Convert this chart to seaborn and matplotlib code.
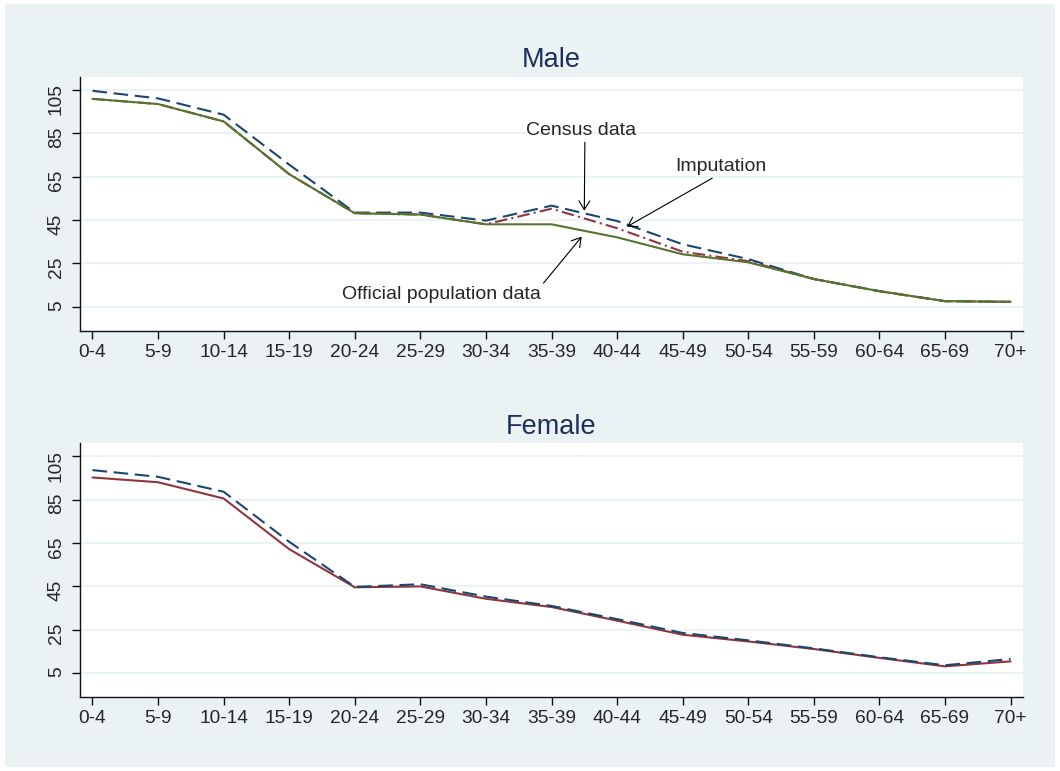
import matplotlib
matplotlib.use("Agg")
import matplotlib.pyplot as plt
import numpy as np
import pandas as pd
import seaborn as sns
from matplotlib.patches import Rectangle

age_groups = ["0-4", "5-9", "10-14", "15-19", "20-24", "25-29", "30-34", "35-39",
              "40-44", "45-49", "50-54", "55-59", "60-64", "65-69", "70+"]

male_census = [104.5, 101.0, 93.5, 70.5, 48.4, 48.4, 44.7, 51.6, 44.5, 33.8, 27.0, 17.8, 12.2, 7.6, 7.3]
male_imputation = [100.8, 98.4, 90.4, 66.1, 48.1, 47.5, 43.0, 50.2, 41.2, 30.4, 26.0, 17.8, 12.2, 7.6, 7.3]
male_official = [100.8, 98.4, 90.4, 66.1, 48.1, 47.5, 43.0, 43.0, 37.0, 29.2, 25.5, 17.8, 12.2, 7.6, 7.3]

female_census = [98.6, 95.5, 88.6, 65.5, 44.7, 45.9, 40.2, 35.9, 29.8, 23.4, 20.0, 16.3, 12.2, 8.5, 11.4]
female_official = [95.2, 93.0, 85.5, 62.1, 44.5, 44.9, 39.2, 35.4, 29.1, 22.6, 19.5, 16.0, 11.9, 8.0, 10.3]

y_ticks = [5, 25, 45, 65, 85, 105]

NAVY = "#1a476f"
MAROON = "#90353b"
GREEN = "#55752f"
BG = "#eaf2f3"
TITLE = "#1f2f5c"

sns.set_style("white")
plt.rcParams["font.family"] = ["Liberation Sans", "DejaVu Sans"]

pos = np.arange(len(age_groups))
male = pd.DataFrame({"pos": pos, "census": male_census, "imputation": male_imputation,
                     "official": male_official})
female = pd.DataFrame({"pos": pos, "census": female_census, "official": female_official})

fig = plt.figure(figsize=(10.6, 7.71), dpi=100)
fig.patch.set_facecolor("white")
fig.patches.append(Rectangle((0.0047, 0.0052), 0.9906, 0.9896, transform=fig.transFigure,
                             facecolor=BG, edgecolor="none", zorder=-10))

ax_m = fig.add_axes([0.0755, 0.5711, 0.8896, 0.3294])
ax_f = fig.add_axes([0.0755, 0.0964, 0.8896, 0.3287])

# stata-like patterns
dash = (0, (7, 3.2))
dashdot = (0, (6, 2, 1, 2))

sns.lineplot(data=male, x="pos", y="census", ax=ax_m, color=NAVY, linewidth=1.5, linestyle=dash)
sns.lineplot(data=male, x="pos", y="imputation", ax=ax_m, color=MAROON, linewidth=1.5, linestyle=dashdot)
sns.lineplot(data=male, x="pos", y="official", ax=ax_m, color=GREEN, linewidth=1.5)

sns.lineplot(data=female, x="pos", y="official", ax=ax_f, color=MAROON, linewidth=1.5)
sns.lineplot(data=female, x="pos", y="census", ax=ax_f, color=NAVY, linewidth=1.5, linestyle=dash)

for ax, title in [(ax_m, "Male"), (ax_f, "Female")]:
    ax.set_facecolor("white")
    ax.set_xlim(-0.19, 14.19)
    ax.set_ylim(-6, 111)
    ax.set_xticks(pos)
    ax.set_xticklabels(age_groups)
    ax.set_yticks(y_ticks)
    ax.set_xlabel("")
    ax.set_ylabel("")
    ax.yaxis.grid(True, color=BG, linewidth=1.5)
    ax.xaxis.grid(False)
    ax.set_axisbelow(True)
    sns.despine(ax=ax)
    for side in ["left", "bottom"]:
        ax.spines[side].set_color("#111111")
        ax.spines[side].set_linewidth(1.0)
    ax.tick_params(axis="both", labelsize=13.8, length=6, width=1, color="#111111",
                   left=True, bottom=True, pad=3.5)
    ax.tick_params(axis="y", labelrotation=90, pad=5)
    ax.set_title(title, fontsize=19.5, color=TITLE, pad=7)

arrow = dict(arrowstyle="->,head_length=0.45,head_width=0.28", color="black", lw=0.8,
             shrinkA=0, shrinkB=0)
ax_m.annotate("Census data", xy=(7.5, 49.3), xytext=(7.45, 84.2), fontsize=14,
              ha="center", va="baseline", arrowprops=dict(arrow, relpos=(0.535, 0.0)))
ax_m.annotate("Imputation", xy=(8.15, 41.9), xytext=(9.58, 67.6), fontsize=14,
              ha="center", va="baseline", arrowprops=dict(arrow, relpos=(0.47, 0.0)))
ax_m.annotate("Official population data", xy=(7.46, 37.3), xytext=(5.32, 8.4), fontsize=14,
              ha="center", va="baseline",
              arrowprops=dict(arrow, relpos=(1.0, 1.0)))

fig.savefig("out.png", dpi=100, facecolor=fig.get_facecolor())
